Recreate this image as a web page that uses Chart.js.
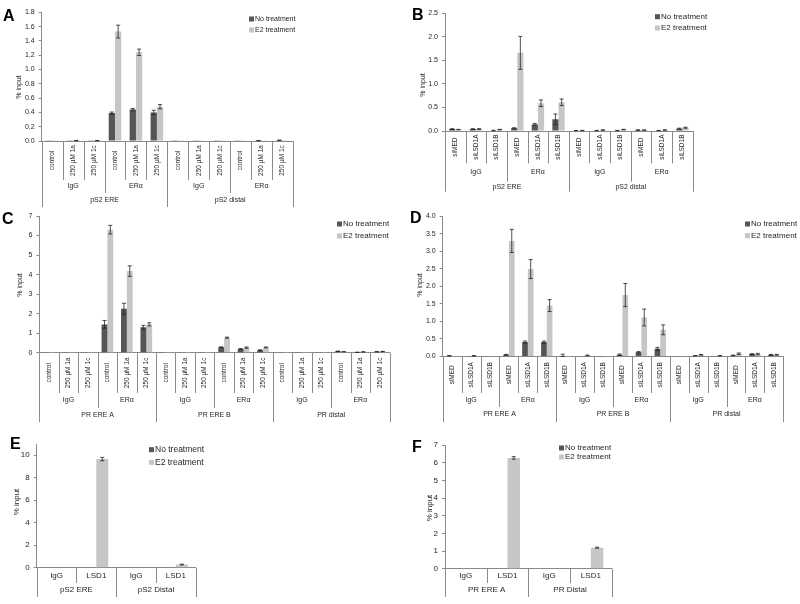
<!DOCTYPE html>
<html>
<head>
<meta charset="utf-8">
<script src="https://cdn.jsdelivr.net/npm/chart.js@4.4.1/dist/chart.umd.min.js"></script>
<style>
  body { margin: 0; background: #fff; }
  #wrap { position: relative; width: 800px; height: 604px; overflow: hidden; }
  canvas { position: absolute; }
  .tag { position: absolute; font: bold 16px "Liberation Sans", Arial, sans-serif; line-height: 1; color: #000; }
</style>
</head>
<body>
<div id="wrap">
  <canvas id="chartA"></canvas>
  <canvas id="chartB"></canvas>
  <canvas id="chartC"></canvas>
  <canvas id="chartD"></canvas>
  <canvas id="chartE"></canvas>
  <canvas id="chartF"></canvas>
  <div class="tag" style="left:3px;top:8px">A</div>
  <div class="tag" style="left:412px;top:7px">B</div>
  <div class="tag" style="left:2px;top:211px">C</div>
  <div class="tag" style="left:410px;top:210px">D</div>
  <div class="tag" style="left:10px;top:436px">E</div>
  <div class="tag" style="left:412px;top:439px">F</div>
</div>
<script>
// --- datos ---
const seriesNames = ['No treatment', 'E2 treatment'];
const antibodies = ['IgG', 'ERα'];
const drugs = ['control', '250 µM 1a', '250 µM 1c'];
const siRNAs = ['siMED', 'siLSD1A', 'siLSD1B'];

// A: pS2, inhibidores
const aRegions = ['pS2 ERE', 'pS2 distal'];
const aNoTreat    = [0.002, 0.002, 0.004, 0.39, 0.44, 0.40, 0.002, 0.003, 0.002, 0.003, 0.005, 0.010];
const aNoTreatErr = [0, 0, 0, 0.015, 0.015, 0.03, 0, 0, 0, 0, 0.002, 0.003];
const aE2         = [0.002, 0.006, 0.005, 1.53, 1.24, 0.48, 0.002, 0.004, 0.002, 0.002, 0.004, 0.005];
const aE2Err      = [0, 0.002, 0.002, 0.09, 0.045, 0.03, 0, 0, 0, 0, 0, 0];

// B: pS2, siRNA
const bRegions = ['pS2 ERE', 'pS2 distal'];
const bNoTreat    = [0.04, 0.04, 0.01, 0.06, 0.14, 0.25, 0.01, 0.01, 0.01, 0.02, 0.01, 0.05];
const bNoTreatErr = [0.01, 0.01, 0.005, 0.01, 0.02, 0.11, 0.003, 0.003, 0.003, 0.005, 0.003, 0.01];
const bE2         = [0.03, 0.04, 0.03, 1.66, 0.59, 0.61, 0.01, 0.02, 0.03, 0.02, 0.02, 0.07];
const bE2Err      = [0.005, 0.01, 0.005, 0.35, 0.07, 0.07, 0.003, 0.005, 0.005, 0.005, 0.005, 0.01];

// C: PR, inhibidores
const cRegions = ['PR ERE A', 'PR ERE B', 'PR distal'];
const cNoTreat    = [0.01, 0.01, 0.01, 1.45, 2.25, 1.30, 0.01, 0.01, 0.01, 0.28, 0.19, 0.13, 0.01, 0.01, 0.01, 0.07, 0.02, 0.05];
const cNoTreatErr = [0, 0, 0, 0.2, 0.28, 0.1, 0, 0, 0, 0.02, 0.02, 0.02, 0, 0, 0, 0.01, 0.005, 0.005];
const cE2         = [0.01, 0.01, 0.01, 6.30, 4.18, 1.45, 0.01, 0.01, 0.01, 0.77, 0.26, 0.27, 0.01, 0.01, 0.01, 0.05, 0.04, 0.06];
const cE2Err      = [0, 0, 0, 0.22, 0.27, 0.08, 0, 0, 0, 0.03, 0.03, 0.02, 0, 0, 0, 0.005, 0.005, 0.01];

// D: PR, siRNA
const dRegions = ['PR ERE A', 'PR ERE B', 'PR distal'];
const dNoTreat    = [0.02, 0.005, 0.005, 0.05, 0.41, 0.41, 0.005, 0.01, 0.005, 0.05, 0.12, 0.22, 0.01, 0.02, 0.005, 0.03, 0.07, 0.05];
const dNoTreatErr = [0.005, 0, 0, 0.01, 0.03, 0.03, 0.06, 0, 0, 0.02, 0.02, 0.04, 0, 0.005, 0, 0.01, 0.01, 0.01];
const dE2         = [0.01, 0.02, 0.01, 3.29, 2.49, 1.45, 0.005, 0.03, 0.01, 1.75, 1.11, 0.76, 0.005, 0.05, 0.02, 0.08, 0.07, 0.05];
const dE2Err      = [0, 0.005, 0, 0.33, 0.27, 0.17, 0, 0.01, 0, 0.33, 0.24, 0.14, 0, 0.01, 0.005, 0.02, 0.02, 0.01];

// E: LSD1 en pS2
const eRegions = ['pS2 ERE', 'pS2 Distal'];
const eAntibodies = ['IgG', 'LSD1'];
const eNoTreat    = [0.05, 0.05, 0.05, 0.05];
const eNoTreatErr = [0, 0, 0, 0];
const eE2         = [0.05, 9.66, 0.05, 0.28];
const eE2Err      = [0, 0.15, 0, 0.03];

// F: LSD1 en PR
const fRegions = ['PR ERE A', 'PR Distal'];
const fAntibodies = ['IgG', 'LSD1'];
const fNoTreat    = [0.03, 0.03, 0.03, 0.03];
const fNoTreatErr = [0, 0, 0, 0];
const fE2         = [0.03, 6.27, 0.03, 1.19];
const fE2Err      = [0, 0.07, 0, 0.03];

// --- estilos ---
const FONT = '"Liberation Sans", Arial, sans-serif';
const DARK = '#555555', LIGHT = '#c6c6c6', LINE = '#8a8a8a', TEXT = '#262626';

// etiquetas repetidas por grupo
const repeat = (arr, times) => Array.from({ length: times }, () => arr).flat();

// Barras de error
const errorBars = {
  id: 'errorBars',
  afterDatasetsDraw(chart) {
    const ctx = chart.ctx, y = chart.scales.y;
    ctx.save();
    ctx.strokeStyle = '#222';
    ctx.lineWidth = 0.8;
    chart.data.datasets.forEach((ds, i) => {
      chart.getDatasetMeta(i).data.forEach((bar, j) => {
        const e = ds.errors[j];
        if (!e) return;
        const v = ds.data[j];
        const top = y.getPixelForValue(v + e), bot = y.getPixelForValue(Math.max(v - e, 0));
        ctx.beginPath();
        ctx.moveTo(bar.x, top); ctx.lineTo(bar.x, bot);
        ctx.moveTo(bar.x - 2, top); ctx.lineTo(bar.x + 2, top);
        ctx.moveTo(bar.x - 2, bot); ctx.lineTo(bar.x + 2, bot);
        ctx.stroke();
      });
    });
    ctx.restore();
  }
};

// Eje de categorías en varios niveles (estilo Excel), leyenda y título del eje y
const multiAxis = {
  id: 'multiAxis',
  afterDraw(chart, args, opts) {
    const ctx = chart.ctx, x = chart.scales.x, area = chart.chartArea;
    const n = chart.data.labels.length;
    const edge = b => b === 0 ? area.left : b === n ? area.right
      : (x.getPixelForValue(b - 1) + x.getPixelForValue(b)) / 2;
    ctx.save();
    ctx.strokeStyle = LINE;
    ctx.lineWidth = 1;
    for (let b = 0; b <= n; b++) {
      let k = 0;
      opts.levels.forEach((lv, i) => { if (b % lv.span === 0) k = i; });
      if (b === 0 || b === n) k = opts.levels.length - 1;
      const px = Math.round(edge(b)) + 0.5;
      ctx.beginPath();
      ctx.moveTo(px, area.bottom);
      ctx.lineTo(px, area.bottom + opts.depths[k]);
      ctx.stroke();
    }
    ctx.fillStyle = TEXT;
    ctx.textAlign = 'center';
    ctx.textBaseline = 'middle';
    opts.levels.forEach((lv, k) => {
      const yTop = area.bottom + (k ? opts.depths[k - 1] : 0);
      const yMid = (yTop + area.bottom + opts.depths[k]) / 2;
      ctx.font = lv.size + 'px ' + FONT;
      lv.labels.forEach((t, g) => {
        const cx = (edge(g * lv.span) + edge((g + 1) * lv.span)) / 2;
        if (lv.rotate) {
          ctx.save();
          ctx.translate(cx, yMid);
          ctx.rotate(-Math.PI / 2);
          ctx.fillText(t, 0, 0);
          ctx.restore();
        } else {
          ctx.fillText(t, cx, yMid);
        }
      });
    });
    // leyenda
    const lg = opts.legend;
    ctx.textAlign = 'left';
    ctx.font = lg.size + 'px ' + FONT;
    chart.data.datasets.forEach((ds, i) => {
      const ry = lg.y + i * lg.gap;
      ctx.fillStyle = ds.backgroundColor;
      ctx.fillRect(lg.x, ry - 2.5, 5, 5);
      ctx.fillStyle = TEXT;
      ctx.fillText(ds.label, lg.x + 6, ry);
    });
    // título eje y
    ctx.save();
    ctx.translate(opts.yTitle[0], opts.yTitle[1]);
    ctx.rotate(-Math.PI / 2);
    ctx.textAlign = 'center';
    ctx.font = opts.yTitleSize + 'px ' + FONT;
    ctx.fillText('% input', 0, 0);
    ctx.restore();
    ctx.restore();
  }
};

function panel(id, rect, area, cfg) {
  const [cx, cy, cw, ch] = rect;
  const [x0, yt, x1, yb] = area;
  const canvas = document.getElementById(id);
  canvas.width = cw; canvas.height = ch;
  canvas.style.left = cx + 'px'; canvas.style.top = cy + 'px';
  const yW = 30, xH = cfg.depths[cfg.depths.length - 1];
  new Chart(canvas.getContext('2d'), {
    type: 'bar',
    data: {
      labels: cfg.levels[0].labels,
      datasets: [
        { label: seriesNames[0], data: cfg.no, errors: cfg.noErr, backgroundColor: DARK },
        { label: seriesNames[1], data: cfg.e2, errors: cfg.e2Err, backgroundColor: LIGHT }
      ]
    },
    options: {
      responsive: false,
      animation: false,
      devicePixelRatio: 1,
      layout: { padding: { left: x0 - cx - yW, top: yt - cy, right: cx + cw - x1, bottom: cy + ch - yb - xH } },
      datasets: { bar: { categoryPercentage: 0.6, barPercentage: 1 } },
      plugins: {
        legend: { display: false },
        tooltip: { enabled: false },
        multiAxis: {
          levels: cfg.levels,
          depths: cfg.depths,
          legend: { x: cfg.legend[0] - cx, y: cfg.legend[1] - cy, gap: cfg.legend[2], size: cfg.legend[3] },
          yTitle: [cfg.yTitle[0] - cx, cfg.yTitle[1] - cy],
          yTitleSize: cfg.tickSize
        }
      },
      scales: {
        x: {
          ticks: { display: false },
          grid: { display: false },
          border: { color: LINE },
          afterFit: s => { s.height = xH; }
        },
        y: {
          min: 0,
          max: cfg.max,
          ticks: {
            stepSize: cfg.step,
            includeBounds: false,
            padding: 4,
            color: TEXT,
            font: { family: FONT, size: cfg.tickSize },
            callback: v => v.toFixed(cfg.decimals)
          },
          grid: { drawOnChartArea: false, tickLength: 3, color: LINE },
          border: { color: LINE },
          afterFit: s => { s.width = yW; }
        }
      }
    },
    plugins: [errorBars, multiAxis]
  });
}

panel('chartA', [0, 0, 400, 210], [41.7, 12.3, 293, 141], {
  no: aNoTreat, noErr: aNoTreatErr, e2: aE2, e2Err: aE2Err,
  max: 1.8, step: 0.2, decimals: 1, tickSize: 7,
  levels: [
    { labels: repeat(drugs, 4), span: 1, size: 6.5, rotate: true },
    { labels: repeat(antibodies, 2), span: 3, size: 7 },
    { labels: aRegions, span: 6, size: 7 }
  ],
  depths: [39, 52, 66],
  legend: [249, 19, 11, 7],
  yTitle: [19, 87]
});

panel('chartB', [400, 0, 400, 210], [445, 13.3, 692.7, 131], {
  no: bNoTreat, noErr: bNoTreatErr, e2: bE2, e2Err: bE2Err,
  max: 2.5, step: 0.5, decimals: 1, tickSize: 7,
  levels: [
    { labels: repeat(siRNAs, 4), span: 1, size: 6.5, rotate: true },
    { labels: repeat(antibodies, 2), span: 3, size: 7 },
    { labels: bRegions, span: 6, size: 7 }
  ],
  depths: [32.3, 50.7, 60.7],
  legend: [655, 16.7, 11.3, 8],
  yTitle: [423, 85]
});

panel('chartC', [0, 205, 400, 220], [39.3, 216, 389.5, 352.7], {
  no: cNoTreat, noErr: cNoTreatErr, e2: cE2, e2Err: cE2Err,
  max: 7, step: 1, decimals: 0, tickSize: 7,
  levels: [
    { labels: repeat(drugs, 6), span: 1, size: 6.5, rotate: true },
    { labels: repeat(antibodies, 3), span: 3, size: 7 },
    { labels: cRegions, span: 6, size: 7 }
  ],
  depths: [40.3, 55.3, 69.3],
  legend: [337, 224, 12, 8],
  yTitle: [20, 285]
});

panel('chartD', [400, 205, 400, 220], [442.7, 216, 783.3, 356.5], {
  no: dNoTreat, noErr: dNoTreatErr, e2: dE2, e2Err: dE2Err,
  max: 4, step: 0.5, decimals: 1, tickSize: 7,
  levels: [
    { labels: repeat(siRNAs, 6), span: 1, size: 6.5, rotate: true },
    { labels: repeat(antibodies, 3), span: 3, size: 7 },
    { labels: dRegions, span: 6, size: 7 }
  ],
  depths: [36.5, 50.5, 65.5],
  legend: [745, 224, 11.7, 8],
  yTitle: [420, 285]
});

panel('chartE', [0, 425, 400, 179], [36.7, 444, 195.7, 567.7], {
  no: eNoTreat, noErr: eNoTreatErr, e2: eE2, e2Err: eE2Err,
  max: 11, step: 2, decimals: 0, tickSize: 8,
  levels: [
    { labels: repeat(eAntibodies, 2), span: 1, size: 8 },
    { labels: eRegions, span: 2, size: 8 }
  ],
  depths: [15.3, 29.3],
  legend: [149, 449.7, 12.6, 8.5],
  yTitle: [17, 502]
});

panel('chartF', [400, 425, 400, 179], [445, 445, 611.7, 568.7], {
  no: fNoTreat, noErr: fNoTreatErr, e2: fE2, e2Err: fE2Err,
  max: 7, step: 1, decimals: 0, tickSize: 8,
  levels: [
    { labels: repeat(fAntibodies, 2), span: 1, size: 8 },
    { labels: fRegions, span: 2, size: 8 }
  ],
  depths: [14.3, 28.3],
  legend: [559, 448, 9, 8],
  yTitle: [430, 508]
});
</script>
</body>
</html>
